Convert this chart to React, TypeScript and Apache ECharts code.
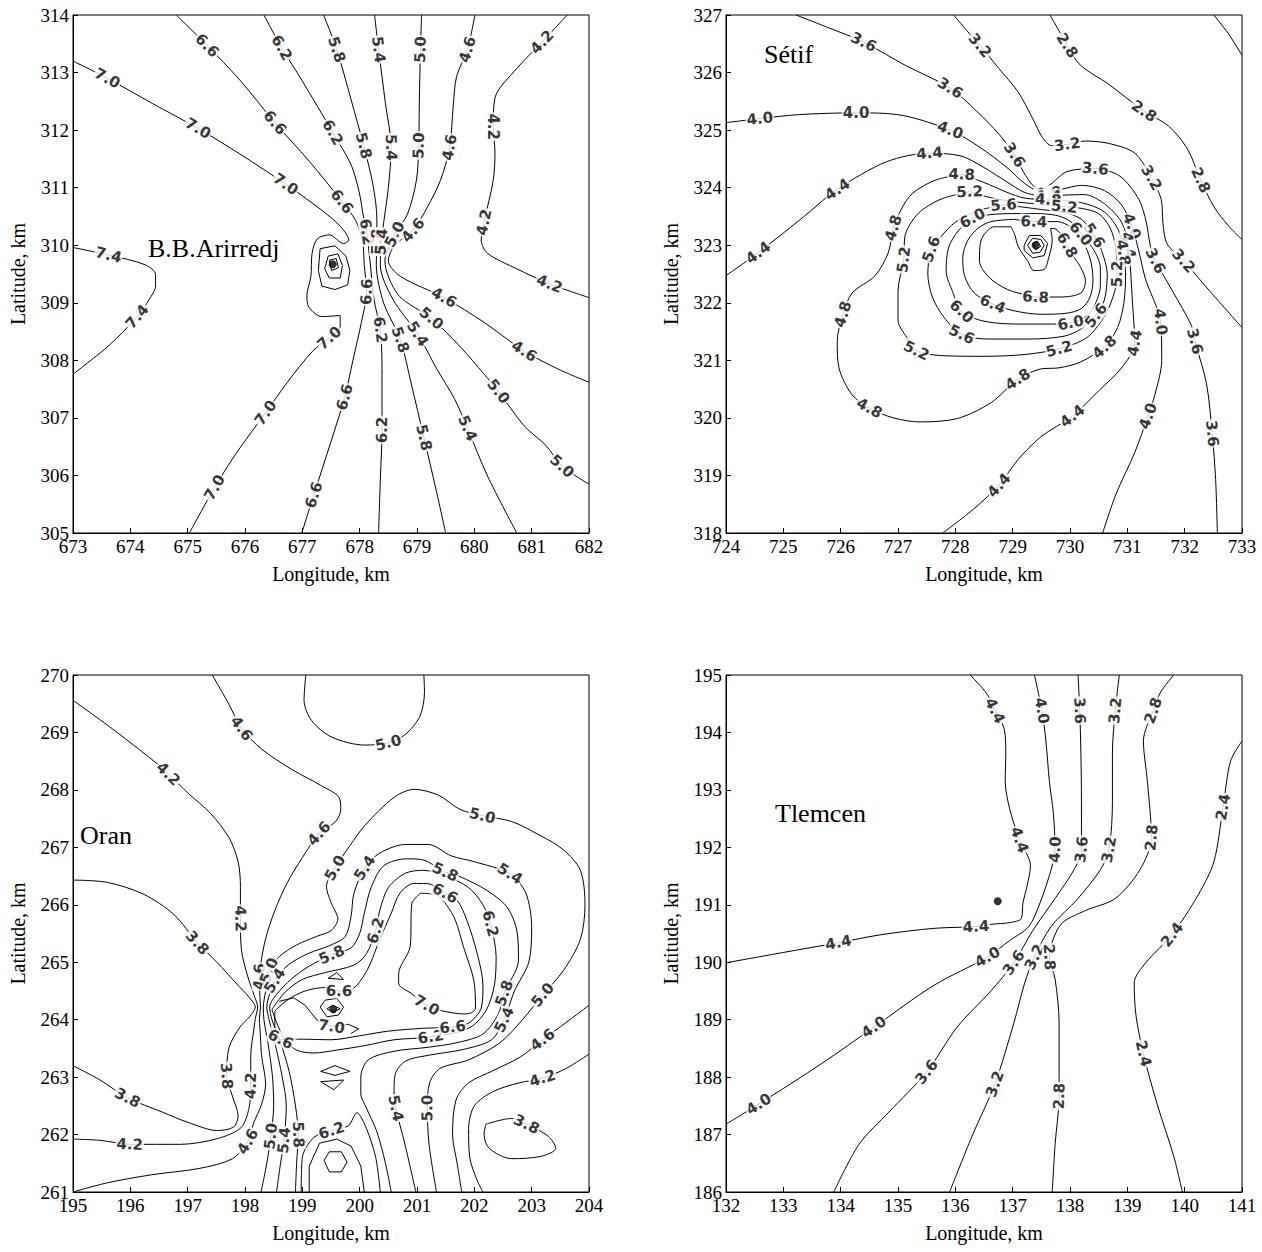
import React, { useEffect, useRef } from "react";
import * as echarts from "echarts";

// ---------- axis ranges ----------
const bbLon = [673, 682];
const bbLat = [305, 314];
const stLon = [724, 733];
const stLat = [318, 327];
const orLon = [195, 204];
const orLat = [261, 270];
const tlLon = [132, 141];
const tlLat = [186, 195];

const panelTitles = ["B.B.Arirredj", "Sétif", "Oran", "Tlemcen"];
const xName = "Longitude, km";
const yName = "Latitude, km";

// points: [lon, lat] ; a third element 1 marks where the contour label sits
// ---------- B.B.Arirredj ----------
const bb74 = [[673.0,309.96],[673.62,309.83,1],[674.26,309.66],[674.44,309.49],[674.44,309.29],[674.33,309.06],[674.12,308.76,1],[673.63,308.26],[673.0,307.76]];
const bb70 = [[673.0,313.2],[673.6,312.9,1],[674.39,312.46],[675.18,312.03,1],[675.95,311.56],[676.71,311.06,1],[677.31,310.63],[677.66,310.33],[677.81,310.09],[677.72,310.03],[677.47,310.18],[677.26,310.11],[677.17,309.86],[677.15,309.46],[677.08,309.13],[677.11,308.93],[677.34,308.76],[677.66,308.78],[677.66,308.59],[677.47,308.39,1],[677.18,308.16],[676.74,307.62],[676.36,307.09,1],[675.85,306.39],[675.47,305.79,1],[675.03,305.0]];
const bbR1 = [[677.31,309.94],[677.57,309.99],[677.76,309.81],[677.83,309.56],[677.79,309.31],[677.57,309.23],[677.34,309.29],[677.28,309.56]];
const bbR2 = [[677.45,309.81],[677.62,309.85],[677.7,309.65],[677.66,309.43],[677.47,309.43],[677.39,309.59]];
const bbR3 = [[677.47,309.74],[677.59,309.77],[677.63,309.61],[677.51,309.56]];
const bb66 = [[674.8,314.0],[675.34,313.47,1],[675.91,312.87],[676.52,312.13,1],[677.12,311.46],[677.69,310.76,1],[677.93,310.43],[678.05,310.09],[678.08,309.66],[678.12,309.19,1],[678.03,308.66],[677.88,307.99],[677.74,307.36,1],[677.5,306.59],[677.2,305.66,1],[676.99,305.0]];
const bb62 = [[676.33,314.0],[676.64,313.43,1],[676.99,312.87],[677.53,311.96,1],[677.85,311.4],[677.99,310.93],[678.06,310.53],[678.12,310.23,1],[678.18,309.73],[678.25,309.06],[678.36,308.53,1],[678.39,307.86],[678.39,306.79,1],[678.36,305.92],[678.33,305.0]];
const bb58 = [[677.37,314.0],[677.6,313.4,1],[677.85,312.53],[678.07,311.73,1],[678.23,311.06],[678.3,310.46],[678.3,310.06,1],[678.29,309.66],[678.42,308.99],[678.71,308.36,1],[678.9,307.59],[679.12,306.66,1],[679.34,305.72],[679.5,305.0]];
const bb54 = [[678.26,314.0],[678.33,313.4,1],[678.45,312.46],[678.55,311.7,1],[678.5,311.0],[678.42,310.4],[678.38,310.06,1],[678.36,309.66],[678.58,309.06],[679.01,308.46,1],[679.34,307.86],[679.66,307.32],[679.88,306.82,1],[680.23,305.99],[680.74,305.0]];
const bb50 = [[679.08,314.0],[679.06,313.4,1],[679.04,312.46],[679.03,311.73,1],[678.99,311.13],[678.83,310.53],[678.61,310.19,1],[678.44,309.73],[678.68,309.13],[679.25,308.73,1],[679.76,308.23],[680.17,307.76],[680.42,307.46,1],[680.87,306.86],[681.25,306.52],[681.53,306.16,1],[682.0,305.85]];
const bb46 = [[680.01,314.0],[679.88,313.4,1],[679.69,312.93],[679.63,312.4],[679.57,311.7,1],[679.41,311.13],[679.18,310.66],[678.93,310.26,1],[678.61,310.0],[678.5,309.73],[678.71,309.46],[679.47,309.09,1],[680.17,308.66],[680.87,308.16,1],[681.5,307.83],[682.0,307.62]];
const bb42 = [[681.62,314.0],[681.18,313.53,1],[680.74,313.07],[680.36,312.56],[680.33,312.06,1],[680.36,311.6],[680.33,311.13],[680.17,310.4,1],[680.12,310.09],[680.23,309.86],[680.74,309.59],[681.31,309.33,1],[682.0,309.09]];
const bbDot = [[677.53,309.67]];

// ---------- Sétif ----------
const st24 = [[732.51,327],[732.77,326.67],[733,326.3]];
const st28 = [[729.65,327],[729.88,326.6],[729.95,326.47,1],[730.18,326.13],[730.67,325.8],[731.29,325.33,1],[731.72,325.07],[732.05,324.67],[732.28,324.13,1],[732.51,323.67],[732.77,323.33],[733,323.1]];
const st32 = [[727.97,327],[728.2,326.73],[728.43,326.47,1],[728.76,326.07],[729.09,325.67],[729.35,325.2],[729.52,324.87],[729.68,324.73],[729.95,324.75,1],[730.27,324.81],[730.67,324.77],[731.13,324.6],[731.42,324.17,1],[731.59,323.8],[731.62,323.4],[731.69,323.03],[731.98,322.73,1],[732.44,322.2],[733,321.57]];
const st36 = [[725.22,327],[725.81,326.77],[726.4,326.53,1],[727.12,326.13],[727.91,325.73,1],[728.37,325.33],[728.76,324.93],[729.03,324.57,1],[729.19,324.27],[729.36,324.03],[729.5,323.97],[729.65,324.05],[729.95,324.28],[730.44,324.33,1],[730.87,324.2],[731.2,323.8],[731.33,323.4],[731.4,323.0],[731.49,322.73,1],[731.79,322.2],[732.12,321.6],[732.18,321.33,1],[732.38,320.6],[732.48,319.73,1],[732.54,318.93],[732.57,318]];
const st40 = [[724,325.13],[724.59,325.2,1],[725.28,325.27],[726.27,325.3,1],[726.99,325.27],[727.91,325.0,1],[728.43,324.7],[728.9,324.35],[729.2,324.08],[729.45,323.93],[729.62,323.91,1],[729.85,323.97],[730.2,324.04],[730.6,323.95],[730.9,323.7],[731.08,323.33,1],[731.2,322.9],[731.32,322.4],[731.5,321.95],[731.58,321.67,1],[731.6,321.0],[731.48,320.4],[731.36,320.03,1],[731.13,319.4],[730.8,318.67],[730.57,318]];
const st44 = [[724,322.47],[724.56,322.87,1],[725.3,323.45],[725.94,323.97,1],[726.8,324.45],[727.55,324.6,1],[728.1,324.55],[728.5,324.35],[728.9,324.1],[729.2,323.92],[729.45,323.86],[729.62,323.85,1],[729.9,323.87],[730.25,323.88],[730.6,323.72],[730.9,323.4],[731.02,323.0,1],[731.06,322.5],[731.09,322.0],[731.13,321.3,1],[730.9,320.87],[730.5,320.47],[730.04,320.03,1],[729.49,319.67],[729.09,319.27],[728.76,318.83,1],[728.3,318.4],[727.78,318]];
const st48 = [[728.11,324.23,1],[727.65,324.13],[727.25,323.9],[727.06,323.63],[726.92,323.3,1],[726.83,322.87],[726.6,322.47],[726.2,322.17],[726.04,321.8,1],[725.94,321.33],[725.97,320.87],[726.2,320.4],[726.5,320.17,1],[726.92,320.0],[727.38,319.93],[728.04,319.99],[728.63,320.27],[729.09,320.67,1],[729.49,320.85],[729.81,320.87],[730.18,320.97],[730.6,321.23,1],[730.83,321.57],[730.94,322.0],[730.97,322.5],[730.93,322.87,1],[730.85,323.25],[730.6,323.58],[730.2,323.74],[729.8,323.78],[729.62,323.79,1],[729.2,323.82],[728.9,323.92],[728.5,324.09]];
const st52 = [[728.25,323.93,1],[727.75,323.8],[727.35,323.55],[727.12,323.15],[727.1,322.75,1],[727.0,322.2],[727.0,321.7],[727.15,321.4],[727.32,321.17,1],[727.8,321.08],[728.5,321.07],[729.2,321.1],[729.81,321.2,1],[730.3,321.4],[730.62,321.8],[730.78,322.2],[730.82,322.5,1],[730.8,322.95],[730.7,323.3],[730.5,323.55],[730.2,323.64],[729.9,323.67,1],[729.5,323.71],[729.0,323.76],[728.6,323.83]];
const st56 = [[728.84,323.7,1],[728.4,323.6],[728.0,323.4],[727.75,323.15],[727.58,322.93,1],[727.52,322.5],[727.6,322.1],[727.8,321.75],[728.11,321.45,1],[728.6,321.37],[729.3,321.37],[729.9,321.42],[730.2,321.55],[730.45,321.78,1],[730.6,322.05],[730.65,322.5],[730.55,322.91],[730.42,323.17,1],[730.2,323.45],[729.9,323.57],[729.5,323.62],[729.2,323.66]];
const st60 = [[728.3,323.47,1],[728.05,323.25],[727.88,322.95],[727.84,322.55],[727.95,322.2],[728.11,321.85,1],[728.5,321.68],[729.1,321.63],[729.6,321.63],[730.01,321.65,1],[730.3,321.78],[730.45,322.0],[730.53,322.3],[730.53,322.6],[730.42,322.91],[730.19,323.2,1],[730.0,323.42],[729.75,323.52],[729.4,323.55],[729.0,323.55],[728.6,323.53]];
const st64 = [[729.03,323.45],[729.37,323.41,1],[729.78,323.41],[730.01,323.32],[730.17,323.14],[730.3,322.91],[730.38,322.64],[730.4,322.38],[730.35,322.1],[730.2,321.9],[729.95,321.82],[729.49,321.8],[729.03,321.86],[728.65,321.98,1],[728.33,322.17],[728.16,322.47],[728.13,322.79],[728.22,323.09],[728.39,323.29],[728.62,323.41]];
const st68 = [[728.97,323.32],[728.68,323.32],[728.45,323.09],[728.42,322.73],[728.59,322.44],[728.91,322.23],[729.26,322.13],[729.4,322.1,1],[729.84,322.1],[730.19,322.17],[730.27,322.38],[730.19,322.61],[730.07,322.79],[729.95,323.0,1],[729.84,323.2],[729.72,323.29],[729.66,323.29],[729.69,323.09],[729.63,322.79],[729.55,322.58],[729.37,322.56],[729.26,322.73],[729.1,322.97],[729.03,323.2]];
const stR1 = [[729.2,323.0],[729.29,323.17],[729.49,323.17],[729.61,323.03],[729.55,322.82],[729.35,322.78],[729.2,322.91]];
const stR2 = [[729.26,323.0],[729.35,323.12],[729.49,323.1],[729.55,323.0],[729.48,322.88],[729.35,322.86]];
const stR3 = [[729.35,323.03],[729.43,323.07],[729.49,322.98],[729.4,322.92]];
const stDot = [[729.4,323.0]];

// ---------- Oran ----------
const or38 = [[195,266.43],[195.6,266.39],[196.24,266.18],[196.76,265.83],[197.17,265.34,1],[197.52,264.99],[197.84,264.64],[198.08,264.38],[198.18,264.22],[198.08,264.05],[197.91,263.87],[197.72,263.51],[197.68,263.02,1],[197.78,262.67],[197.88,262.32],[197.8,262.13],[197.52,262.07],[197.01,262.21],[196.56,262.39],[195.95,262.64,1],[195.47,262.95],[195,263.2]];
const or42 = [[195,269.56],[195.73,269.03],[196.5,268.43],[196.66,268.28,1],[197.01,267.94],[197.4,267.59],[197.72,267.17],[197.88,266.75],[197.92,266.32],[197.92,265.76,1],[197.94,265.2],[198.04,264.78],[198.16,264.42],[198.22,264.22],[198.18,264.02],[198.16,263.87],[198.1,263.37],[198.1,262.85,1],[198.07,262.46],[197.93,262.12],[197.52,261.93],[196.88,261.83],[195.99,261.83,1],[195.47,261.9],[195,261.92]];
const or46 = [[197.43,270],[197.72,269.49],[197.94,269.07,1],[198.29,268.71],[198.81,268.36],[199.32,268.08],[199.64,267.87],[199.67,267.66],[199.58,267.45],[199.29,267.24,1],[199.0,266.82],[198.74,266.39],[198.52,265.9],[198.36,265.41],[198.27,264.95],[198.25,264.75,1],[198.26,264.4],[198.27,264.22],[198.25,264.0],[198.26,263.87],[198.29,263.37],[198.36,262.88],[198.29,262.53],[198.15,262.2],[198.05,261.88,1],[197.78,261.58],[197.2,261.41],[196.37,261.3],[195.6,261.16],[195,261.0]];
const or50 = [[198.28,261],[198.38,261.5],[198.45,261.97,1],[198.5,262.5],[198.48,263.0],[198.4,263.6],[198.33,264.0],[198.32,264.22],[198.36,264.5],[198.42,264.85,1],[198.6,265.1],[198.9,265.3],[199.25,265.45],[199.5,265.55],[199.62,265.75],[199.5,266.04],[199.42,266.32],[199.57,266.64,1],[199.83,267.03],[200.09,267.38],[200.6,267.87],[200.95,268.01],[201.37,267.91],[201.75,267.66],[202.14,267.55,1],[202.65,267.45],[203.16,267.2],[203.55,266.96],[203.85,266.6],[203.93,266.0],[203.85,265.4],[203.55,264.85],[203.19,264.43,1],[202.84,264.0],[202.45,263.6],[201.9,263.3],[201.4,263.15],[201.22,262.9],[201.18,262.46,1],[201.21,261.83],[201.34,261]];
const or50t = [[199.06,270],[199.03,269.56],[199.16,269.21],[199.51,268.92],[200.09,268.78],[200.5,268.82,1],[200.79,268.96],[201.05,269.28],[201.13,269.7],[201.12,270]];
const or54 = [[198.55,261],[198.62,261.5],[198.68,261.9,1],[198.72,262.5],[198.65,263.0],[198.52,263.6],[198.42,264.0],[198.38,264.22],[198.43,264.45],[198.52,264.68,1],[198.75,264.95],[199.1,265.15],[199.5,265.3],[199.75,265.45],[199.85,265.8],[199.9,266.2],[200.09,266.64,1],[200.35,266.9],[200.8,267.05],[201.2,267.05],[201.6,266.85],[202.0,266.75],[202.62,266.54,1],[202.9,266.2],[203.0,265.6],[202.95,265.0],[202.7,264.5],[202.52,264.0,1],[202.3,263.65],[201.8,263.48],[201.2,263.38],[200.8,263.28],[200.62,263.05],[200.6,262.75],[200.63,262.46,1],[200.79,261.83],[200.98,261]];
const or58 = [[198.88,261],[198.9,261.5],[198.93,262.0,1],[198.88,262.5],[198.77,263.1],[198.62,263.6],[198.47,264.0],[198.43,264.22],[198.56,264.45],[198.8,264.7],[199.1,264.92],[199.51,265.13,1],[199.85,265.25],[200.0,265.5],[200.08,265.85],[200.2,266.3],[200.42,266.68],[200.82,266.8],[201.11,266.78],[201.49,266.57,1],[201.75,266.49],[202.22,266.25],[202.57,265.96],[202.74,265.56],[202.77,265.04],[202.52,264.46,1],[202.42,264.1],[202.15,263.75],[201.7,263.6],[201.2,263.52],[200.6,263.45],[200.15,263.3],[200.02,263.0],[200.02,262.7],[200.1,262.5],[200.3,262.05],[200.45,261.5],[200.55,261]];
const or62 = [[198.47,264.18],[198.7,264.48],[199.0,264.7],[199.4,264.82],[199.9,264.95],[200.12,265.15],[200.28,265.55,1],[200.35,265.9],[200.5,266.3],[200.8,266.55],[201.11,266.6],[201.5,266.5],[201.9,266.3],[202.15,266.0],[202.28,265.67,1],[202.38,265.1],[202.35,264.6],[202.2,264.15],[201.9,263.85],[201.24,263.7,1],[200.6,263.65],[200.1,263.55],[199.6,263.47],[199.2,263.42],[198.9,263.47],[198.7,263.65],[198.55,263.95]];
const or66 = [[198.52,264.15],[198.75,264.35],[199.05,264.5],[199.4,264.56],[199.64,264.5,1],[199.9,264.55],[200.15,264.9],[200.35,265.4],[200.55,265.85],[200.7,266.2],[200.94,266.37],[201.17,266.37],[201.49,266.2,1],[201.7,266.08],[201.87,265.73],[202.05,265.15],[202.15,264.6],[202.12,264.2],[201.9,263.94],[201.62,263.87,1],[201.1,263.85],[200.5,263.8],[200.0,263.72],[199.5,263.65],[199.0,263.66],[198.62,263.66,1],[198.52,263.9]];
const or70 = [[201.06,266.2],[200.91,266.02],[200.88,265.27],[200.68,264.8],[200.68,264.63],[200.91,264.45],[201.17,264.25,1],[201.41,264.16],[201.81,264.1],[201.95,264.12],[202.02,264.2],[201.99,264.69],[201.81,265.27],[201.67,265.73],[201.52,265.99],[201.35,266.17]];
const or70b = [[198.6,264.32],[198.85,264.38],[199.05,264.25],[199.25,264.0],[199.51,263.88,1],[199.8,263.92],[199.98,263.84],[199.85,263.76]];
const orDotRing = [[199.31,264.22],[199.4,264.34],[199.6,264.37],[199.72,264.22],[199.63,264.08],[199.43,264.05]];
const orEye = [[199.43,264.19],[199.53,264.25],[199.66,264.19],[199.53,264.13]];
const orTri = [[199.45,264.72],[199.6,264.82],[199.72,264.7]];
const orT1 = [[199.32,263.1],[199.57,263.2],[199.83,263.1],[199.57,263.03]];
const orT2 = [[199.32,262.92],[199.72,262.95],[199.55,262.78]];
const orArchA = [[198.98,261],[199.0,261.6],[199.2,261.95],[199.51,262.07,1],[199.8,262.15],[199.95,262.38],[200.12,262.1],[200.28,261.6],[200.36,261]];
const orArchB = [[199.12,261],[199.12,261.45],[199.3,261.85],[199.6,261.92],[199.85,261.8],[200.02,261.45],[200.08,261]];
const orRing = [[199.38,261.55],[199.47,261.7],[199.68,261.7],[199.78,261.52],[199.68,261.35],[199.47,261.35]];
const or46r = [[204,264.25],[203.6,263.95],[203.19,263.65,1],[202.8,263.35],[202.3,263.1],[201.9,262.9],[201.68,262.6],[201.62,262.0],[201.7,261.5],[201.78,261]];
const or42r = [[204,263.4],[203.6,263.15],[203.19,262.98,1],[202.78,262.9],[202.33,262.75],[202.0,262.5],[201.9,262.1],[201.92,261.6],[202.05,261.2],[202.15,261]];
const or38r = [[202.2,262.18],[202.65,262.28],[202.91,262.18,1],[203.29,261.97],[203.42,261.76],[203.16,261.62],[202.65,261.58],[202.26,261.76],[202.17,262.0]];
const orDot = [[199.54,264.18]];

// ---------- Tlemcen ----------
const tl44 = [[136.26,195],[136.56,194.66],[136.69,194.38,1],[136.85,194.07],[136.88,193.64],[136.87,193.15],[136.95,192.66],[137.12,192.13,1],[137.31,191.68],[137.25,191.32],[137.18,191.04],[137.15,190.76],[136.95,190.69],[136.62,190.66],[136.36,190.62,1],[135.63,190.59],[134.71,190.48],[133.96,190.34,1],[133.0,190.17],[132,189.99]];
const tl40 = [[137.38,195],[137.51,194.38,1],[137.58,193.85],[137.64,193.15],[137.71,192.59],[137.74,191.96,1],[137.67,191.61],[137.48,191.04],[137.28,190.62],[136.95,190.38],[136.56,190.09,1],[135.63,189.6],[134.58,188.87,1],[133.66,188.23],[132.57,187.53,1],[132,187.18]];
const tl36 = [[138.14,195],[138.17,194.38,1],[138.19,193.64],[138.2,192.8],[138.2,191.96,1],[138.07,191.61],[137.74,191.11],[137.35,190.55],[137.02,189.99,1],[136.62,189.5],[136.03,188.87],[135.5,188.09,1],[134.84,187.39],[134.32,186.83],[133.88,186]];
const tl32 = [[138.86,195],[138.79,194.38,1],[138.74,193.64],[138.74,192.8],[138.68,191.96,1],[138.53,191.61],[138.14,191.11],[137.67,190.62],[137.38,190.09,1],[137.21,189.64],[137.02,188.94],[136.69,187.88,1],[136.29,186.97],[135.9,186]];
const tl28 = [[139.81,195],[139.58,194.7],[139.45,194.38,1],[139.28,193.85],[139.35,193.15],[139.42,192.17,1],[139.22,191.61],[138.79,191.11],[138.27,190.9],[137.87,190.69],[137.71,190.41],[137.64,190.09,1],[137.74,189.71],[137.81,188.94],[137.81,187.67,1],[137.74,186.83],[137.69,186]];
const tl24 = [[141,193.85],[140.8,193.5],[140.67,192.7,1],[140.51,191.75],[140.24,191.18],[139.78,190.48,1],[139.32,189.99],[139.12,189.64],[139.15,189.08],[139.28,188.41,1],[139.52,187.53],[139.81,186.62],[139.96,186]];
const tlDot = [[136.74,191.06]];

// [level, points, closed]
type C = [number | null, number[][], boolean];
const bbSet: C[] = [[7.4, bb74, false],[7.0, bb70, false],[null, bbR1, true],[null, bbR2, true],[null, bbR3, true],[6.6, bb66, false],[6.2, bb62, false],[5.8, bb58, false],[5.4, bb54, false],[5.0, bb50, false],[4.6, bb46, false],[4.2, bb42, false]];
const stSet: C[] = [[null, st24, false],[2.8, st28, false],[3.2, st32, false],[3.6, st36, false],[4.0, st40, false],[4.4, st44, false],[4.8, st48, true],[5.2, st52, true],[5.6, st56, true],[6.0, st60, true],[6.4, st64, true],[6.8, st68, true],[null, stR1, true],[null, stR2, true],[null, stR3, true]];
const orSet: C[] = [[3.8, or38, false],[4.2, or42, false],[4.6, or46, false],[5.0, or50, false],[5.0, or50t, false],[5.4, or54, false],[5.8, or58, false],[6.2, or62, true],[6.6, or66, true],[7.0, or70, true],[7.0, or70b, false],[null, orDotRing, true],[null, orEye, true],[null, orTri, true],[null, orT1, true],[null, orT2, true],[6.2, orArchA, false],[null, orArchB, false],[null, orRing, true],[4.6, or46r, false],[4.2, or42r, false],[3.8, or38r, true]];
const tlSet: C[] = [[4.4, tl44, false],[4.0, tl40, false],[3.6, tl36, false],[3.2, tl32, false],[2.8, tl28, false],[2.4, tl24, false]];

const SERIF = "Liberation Serif";
const SANS = "DejaVu Sans";

const grids = [
  { left: 73, top: 15, width: 516, height: 518 },
  { left: 726, top: 15, width: 516, height: 518 },
  { left: 73, top: 675, width: 516, height: 517 },
  { left: 726, top: 675, width: 516, height: 517 },
];
const titlePos = [
  [148, 250],
  [764, 56],
  [80, 837],
  [775, 815],
];

const labelFont = {
  fontFamily: SANS,
  fontWeight: "bold",
  fontSize: 15,
  color: "#000",
  backgroundColor: "#fff",
  padding: [0, 1],
};

function labelAngle(pts: number[][], i: number, closed: boolean) {
  const n = pts.length;
  let a = i - 1, b = i + 1;
  if (closed) { a = (a + n) % n; b = b % n; } else { a = Math.max(0, a); b = Math.min(n - 1, b); }
  let ang = (Math.atan2(pts[b][1] - pts[a][1], pts[b][0] - pts[a][0]) * 180) / Math.PI;
  if (ang > 90) ang -= 180;
  if (ang < -90) ang += 180;
  return ang;
}

function buildSeries(set: C[], dots: number[][], idx: number) {
  const out: any[] = [];
  const labels: any[] = [];
  set.forEach(([lvl, pts, closed]) => {
    const d = pts.map((p) => [p[0], p[1]]);
    if (closed) d.push([pts[0][0], pts[0][1]]);
    const small = lvl === null || pts.length < 9;
    out.push({
      type: "line",
      xAxisIndex: idx,
      yAxisIndex: idx,
      data: d,
      showSymbol: false,
      symbol: "none",
      smooth: small ? 0 : 0.3,
      silent: true,
      animation: false,
      z: 2,
      lineStyle: { color: "#000", width: 1 },
    });
    if (lvl !== null) {
      pts.forEach((p, i) => {
        if (p[2] === 1) {
          labels.push({
            value: [p[0], p[1]],
            name: lvl.toFixed(1),
            label: { ...labelFont, show: true, position: "inside", formatter: "{b}", rotate: labelAngle(pts, i, closed) },
          });
        }
      });
    }
  });
  out.push({
    type: "scatter",
    xAxisIndex: idx,
    yAxisIndex: idx,
    data: labels,
    symbolSize: 1,
    silent: true,
    z: 5,
    itemStyle: { color: "rgba(0,0,0,0)" },
    labelLayout: { hideOverlap: false },
    label: { ...labelFont, show: true, position: "inside", formatter: "{b}" },
  });
  out.push({
    type: "scatter",
    xAxisIndex: idx,
    yAxisIndex: idx,
    data: dots,
    symbolSize: 8,
    silent: true,
    z: 6,
    itemStyle: { color: "#000" },
  });
  return out;
}

function xAxisOf(i: number, r: number[]) {
  return {
    gridIndex: i,
    type: "value",
    min: r[0],
    max: r[1],
    interval: 1,
    name: xName,
    nameLocation: "middle",
    nameGap: 31,
    nameTextStyle: { fontFamily: SERIF, fontSize: 20, color: "#000" },
    axisLine: { show: true, onZero: false, lineStyle: { color: "#000", width: 1 } },
    axisTick: { show: true, inside: true, length: 5, lineStyle: { color: "#000" } },
    axisLabel: { fontFamily: SERIF, fontSize: 19, color: "#000", margin: 4 },
    splitLine: { show: false },
  };
}
function yAxisOf(i: number, r: number[]) {
  return {
    gridIndex: i,
    type: "value",
    min: r[0],
    max: r[1],
    interval: 1,
    name: yName,
    nameLocation: "middle",
    nameGap: 45,
    nameTextStyle: { fontFamily: SERIF, fontSize: 20, color: "#000" },
    axisLine: { show: true, onZero: false, lineStyle: { color: "#000", width: 1 } },
    axisTick: { show: true, inside: true, length: 5, lineStyle: { color: "#000" } },
    axisLabel: { fontFamily: SERIF, fontSize: 19, color: "#000", margin: 4 },
    splitLine: { show: false },
  };
}

export default function App() {
  const ref = useRef<HTMLDivElement>(null);
  useEffect(() => {
    if (!ref.current) return;
    const chart = echarts.init(ref.current, null, { renderer: "svg", width: 1262, height: 1252 });
    const ranges = [
      [bbLon, bbLat],
      [stLon, stLat],
      [orLon, orLat],
      [tlLon, tlLat],
    ];
    const sets = [bbSet, stSet, orSet, tlSet];
    const dots = [bbDot, stDot, orDot, tlDot];
    const series: any[] = [];
    sets.forEach((s, i) => series.push(...buildSeries(s, dots[i], i)));
    const option: any = {
      animation: false,
      backgroundColor: "#fff",
      grid: grids.map((g) => ({ ...g, show: true, borderColor: "#000", borderWidth: 1, backgroundColor: "transparent", containLabel: false })),
      xAxis: ranges.map((r, i) => xAxisOf(i, r[0])),
      yAxis: ranges.map((r, i) => yAxisOf(i, r[1])),
      graphic: panelTitles.map((t, i) => ({
        type: "text",
        left: titlePos[i][0],
        top: titlePos[i][1] - 15,
        silent: true,
        z: 10,
        style: {
          text: t,
          font: `26px "${SERIF}"`,
          fill: "#000",
        },
      })),
      series,
    };
    chart.setOption(option);
    return () => chart.dispose();
  }, []);
  return (
    <div
      ref={ref}
      style={{ position: "absolute", left: 0, top: 0, width: 1262, height: 1252, background: "#fff" }}
    />
  );
}
